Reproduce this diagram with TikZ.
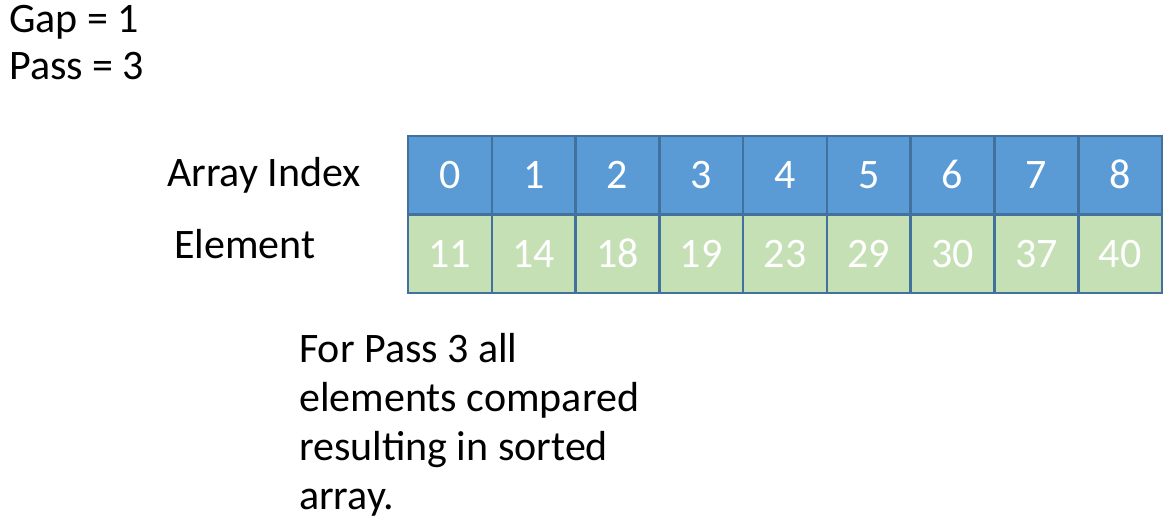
\documentclass[tikz,border=0pt]{standalone}
\usepackage{fontspec}
\setmainfont{Carlito}
\usepackage{tikz}
\usetikzlibrary{positioning}
\definecolor{idxblue}{HTML}{5B9BD5}
\definecolor{cellgreen}{HTML}{C5E0B4}
\definecolor{gridline}{HTML}{41719C}
\tikzstyle{label} = [inner sep=0pt, anchor=base west, font=\fontsize{42}{49}\selectfont]
\tikzstyle{cell} = [rectangle, minimum width=83.78pt, minimum height=78.5pt, inner sep=0pt, text height=27pt, text depth=0pt, draw=gridline, line width=2.5pt, text=white, font=\fontsize{42}{49}\selectfont]
\tikzstyle{idxcell} = [cell, fill=idxblue]
\tikzstyle{elemcell} = [cell, fill=cellgreen]

\begin{document}
\begin{tikzpicture}[x=1pt, y=-1pt]
\useasboundingbox (0,0) rectangle (1173,526);

\node (gap) [label] at (9,33) {Gap = 1};
\node (pass) [label] at (9,80) {Pass = 3};

\node (idxlabel) [label] at (167,187) {Array Index};
\node (elemlabel) [label] at (174,259) {Element};

\foreach \i/\e in {0/11, 1/14, 2/18, 3/19, 4/23, 5/29, 6/30, 7/37, 8/40} {
  \node (idx\i) [idxcell] at (408+83.78*\i+41.89, 175.5) {\i};
  \node (elem\i) [elemcell] at (408+83.78*\i+41.89, 254) {\e};
}

\node (note) [label, align=left, anchor=north west] at (299,333) {For Pass 3 all\\elements compared\\resulting in sorted\\array.};

\end{tikzpicture}
\end{document}
